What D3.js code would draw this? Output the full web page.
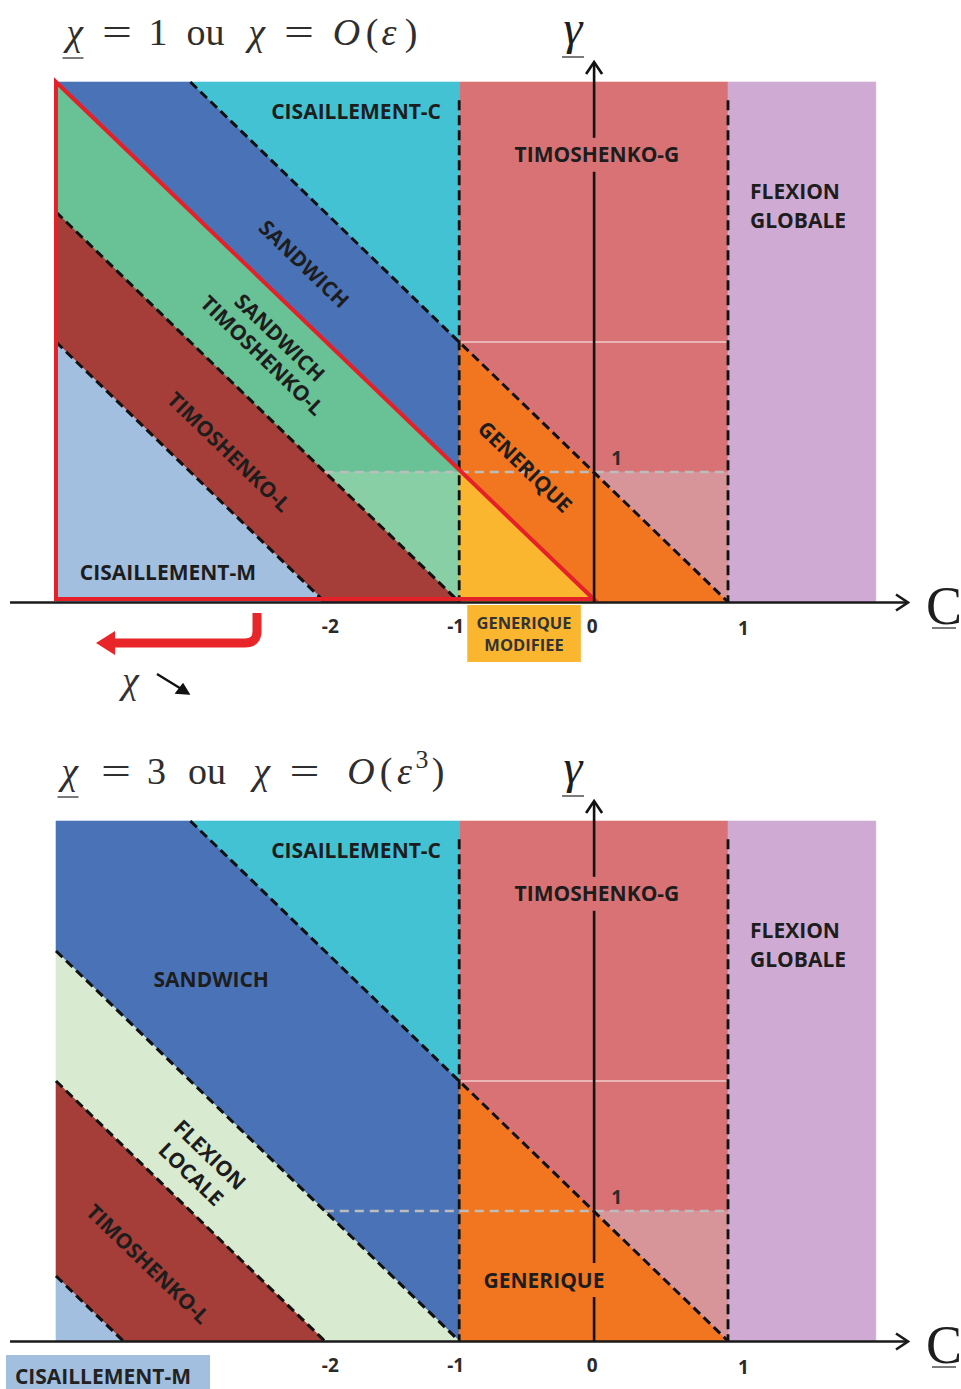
<!DOCTYPE html>
<html><head><meta charset="utf-8">
<script src="https://cdn.jsdelivr.net/npm/d3@7"></script>
<style>body{margin:0;background:#fff}</style>
</head><body>
<svg id="chart" width="961" height="1389" xmlns="http://www.w3.org/2000/svg"></svg>
<script>
// ---------------- DATA ----------------
const categories = ["CISAILLEMENT-C","TIMOSHENKO-G","FLEXION GLOBALE","SANDWICH","SANDWICH TIMOSHENKO-L","TIMOSHENKO-L","CISAILLEMENT-M","GENERIQUE","GENERIQUE MODIFIEE","FLEXION LOCALE"];
const cDomain = [-4, 1];
const gDomain = [0, 4];
const cFlexMax = 2.1;
const xTicks = [-2, -1, 0, 1];
const xTickLabels = ["-2", "-1", "0", "1"];
const yTicks = [1];
const yTickLabels = ["1"];

// regions (C, gamma) — panel chi = 1
const regionsTop = [
  {key:"timoG",   pts:[[-1,4],[1,4],[1,0],[-1,0]]},
  {key:"flexG",   pts:[[1,4],[cFlexMax,4],[cFlexMax,0],[1,0]]},
  {key:"cisC",    pts:[[-3,4],[-1,4],[-1,2]]},
  {key:"sandwich",pts:[[-4,4],[-3,4],[-1,2],[-1,1]]},
  {key:"sandTimo",pts:[[-4,4],[-1,1],[-2,1],[-4,3]]},
  {key:"sandTimoLow",pts:[[-2,1],[-1,1],[-1,0]]},
  {key:"timoL",   pts:[[-4,3],[-1,0],[-2,0],[-4,2]]},
  {key:"cisM",    pts:[[-4,2],[-2,0],[-4,0]]},
  {key:"gen",     pts:[[-1,2],[1,0],[0,0],[-1,1]]},
  {key:"genMod",  pts:[[-1,1],[0,0],[-1,0]]},
  {key:"timoGLow",pts:[[0,1],[1,1],[1,0]]}
];
// regions — panel chi = 3
const regionsBottom = [
  {key:"timoG",   pts:[[-1,4],[1,4],[1,0],[-1,0]]},
  {key:"flexG",   pts:[[1,4],[cFlexMax,4],[cFlexMax,0],[1,0]]},
  {key:"cisC",    pts:[[-3,4],[-1,4],[-1,2]]},
  {key:"sandwich",pts:[[-4,4],[-3,4],[-1,2],[-1,0],[-4,3]]},
  {key:"flexL",   pts:[[-4,3],[-1,0],[-2,0],[-4,2]]},
  {key:"timoL",   pts:[[-4,2],[-2,0],[-3.5,0],[-4,0.5]]},
  {key:"cisM",    pts:[[-4,0.5],[-3.5,0],[-4,0]]},
  {key:"gen",     pts:[[-1,2],[1,0],[-1,0]]},
  {key:"timoGLow",pts:[[0,1],[1,1],[1,0]]}
];
// boundary lines C + gamma = k
const diagTop = [1, -1, -2];
const diagBottom = [1, -1, -2, -3.5];
const verticalBounds = [-1, 1];
const verticalTop = 3.86;
const gammaOneLine = [[-2,1],[1,1]];
const gammaTwoLine = [[-1,2],[1,2]];
const redTriangle = [[-4,4],[-4,0],[0,0]];

// labels anchored in (C, gamma)
const labelsTop = [
  {t:["CISAILLEMENT-C"], c:-1.767, g:3.77},
  {t:["SANDWICH"], c:-2.155, g:2.60, rot:true},
  {t:["SANDWICH","TIMOSHENKO-L"], c:-2.40, g:1.965, rot:true, lh:25},
  {t:["TIMOSHENKO-L"], c:-2.712, g:1.154, rot:true},
  {t:["CISAILLEMENT-M"], c:-3.167, g:0.227},
  {t:["GENERIQUE"], c:-0.51, g:1.04, rot:true},
  {t:["TIMOSHENKO-G"], c:0.025, g:3.44, bg:"timoG"},
  {t:["FLEXION","GLOBALE"], c:1.164, g:3.05, anchor:"start", lh:29}
];
const labelsBottom = [
  {t:["CISAILLEMENT-C"], c:-1.767, g:3.77},
  {t:["TIMOSHENKO-G"], c:0.025, g:3.44, bg:"timoG"},
  {t:["FLEXION","GLOBALE"], c:1.164, g:3.05, anchor:"start", lh:29},
  {t:["SANDWICH"], c:-2.845, g:2.785},
  {t:["FLEXION","LOCALE"], c:-2.925, g:1.358, rot:true, lh:27},
  {t:["TIMOSHENKO-L"], c:-3.315, g:0.592, rot:true},
  {t:["GENERIQUE"], c:-0.369, g:0.469, bg:"gen"}
];
// title tokens (text, italic, superscript) with their centre x
const titleTop = [
  {s:"χ", i:1, cx:74.5, u:1}, {s:"=", cx:117, eq:1}, {s:"1", cx:158}, {s:"ou", cx:205.5},
  {s:"χ", i:1, cx:256.5}, {s:"=", cx:299, eq:1}, {s:"O", i:1, cx:346.5}, {s:"(", cx:372},
  {s:"ε", i:1, cx:389}, {s:")", cx:411}
];
const titleBottom = [
  {s:"χ", i:1, cx:69.5, u:1}, {s:"=", cx:116, eq:1}, {s:"3", cx:156.5}, {s:"ou", cx:207},
  {s:"χ", i:1, cx:261.5}, {s:"=", cx:304.5, eq:1}, {s:"O", i:1, cx:361}, {s:"(", cx:386},
  {s:"ε", i:1, cx:404.5}, {s:"3", cx:422, sup:1}, {s:")", cx:438}
];

// ---------------- STYLE ----------------
const fills = {
  cisC:"#43c2d3", timoG:"#d87275", flexG:"#cfabd3", sandwich:"#4a72b7",
  sandTimo:"#69c196", sandTimoLow:"#89cfa6", timoL:"#a53d38", cisM:"#a3bfdf",
  gen:"#f1761f", genMod:"#fbb630", timoGLow:"#d79599", flexL:"#d8ebd0"
};
const SANS = "'Open Sans', 'DejaVu Sans', sans-serif";
const SERIF = "'Liberation Serif', 'DejaVu Serif', serif";
const ink = "#1d1d1d";

const svg = d3.select("#chart");
const x = d3.scaleLinear().domain(cDomain).range([56, 728]);
const panels = [
  {axisY:602, topY:82, regions:regionsTop, diags:diagTop, labels:labelsTop, red:true, title:titleTop, tBase:45},
  {axisY:1341, topY:821, regions:regionsBottom, diags:diagBottom, labels:labelsBottom, red:false, title:titleBottom, tBase:784}
];

function drawTitle(tokens, baseline, fs){
  tokens.forEach(p => {
    const t = svg.append("text").attr("x", p.cx).attr("y", p.sup ? baseline - fs*0.42 : baseline)
      .attr("text-anchor", "middle").attr("font-family", SERIF)
      .attr("font-size", p.sup ? fs*0.68 : fs).attr("fill", "#2e2e2e").text(p.s);
    if (p.i) t.attr("font-style", "italic");
    if (p.eq) t.attr("textLength", 30).attr("lengthAdjust", "spacingAndGlyphs").attr("x", p.cx - 15).attr("text-anchor", "start");
    if (p.u) svg.append("line").attr("x1", p.cx - 12).attr("x2", p.cx + 9).attr("y1", baseline + 13).attr("y2", baseline + 13)
      .attr("stroke", "#333").attr("stroke-width", 1.3);
  });
}

panels.forEach((P, pi) => {
  const y = d3.scaleLinear().domain(gDomain).range([P.axisY, P.topY]);
  const g = svg.append("g");
  const line = d3.line().x(d => x(d[0])).y(d => y(d[1]));
  const ang = Math.atan2(y(0) - y(1), x(1) - x(0)) * 180 / Math.PI;

  // regions
  g.selectAll("path.region").data(P.regions).join("path")
    .attr("class", "region")
    .attr("d", d => line(d.pts) + "Z")
    .attr("fill", d => fills[d.key]).attr("stroke", d => fills[d.key]).attr("stroke-width", 0.6);

  // pale line gamma = 2
  g.append("path").attr("d", line(gammaTwoLine)).attr("stroke", "#f2cccc").attr("stroke-width", 1.4);

  // gray dashed gamma = 1
  g.append("path").attr("d", line(gammaOneLine)).attr("stroke", "#bdbdbd")
    .attr("stroke-width", 2.5).attr("stroke-dasharray", "9,6").attr("fill", "none");

  // black dashed diagonals
  P.diags.forEach(k => {
    const c0 = Math.max(cDomain[0], k - gDomain[1]);
    g.append("path").attr("d", line([[c0, k - c0], [k, 0]]))
      .attr("stroke", "#111").attr("stroke-width", 3).attr("stroke-dasharray", "9,5").attr("fill", "none");
  });
  verticalBounds.forEach(c => {
    g.append("path").attr("d", line([[c, verticalTop], [c, 0]]))
      .attr("stroke", "#111").attr("stroke-width", 2.8).attr("stroke-dasharray", "10,5").attr("fill", "none");
  });

  // red triangle
  if (P.red) {
    const redLine = d3.line().x(d => x(d[0])).y(d => y(d[1]) - (d[1] === 0 ? 3 : 0));
    g.append("path").attr("d", redLine(redTriangle) + "Z").attr("fill", "none")
      .attr("stroke", "#e42128").attr("stroke-width", 4).attr("stroke-linejoin", "miter");
  }

  // x axis line + arrow
  const ay = y(0) + 0.5;
  g.append("line").attr("x1", 10).attr("x2", 907).attr("y1", ay).attr("y2", ay)
    .attr("stroke", "#1a1a1a").attr("stroke-width", 2.6);
  g.append("path").attr("d", `M896,${ay-8} L908,${ay} L896,${ay+8}`).attr("fill", "none")
    .attr("stroke", "#1a1a1a").attr("stroke-width", 2.6);
  // gamma axis + arrow
  const gx = x(0) + 0.5;
  g.append("line").attr("x1", gx).attr("x2", gx).attr("y1", y(0)).attr("y2", P.topY - 19)
    .attr("stroke", "#111").attr("stroke-width", 2.6);
  g.append("path").attr("d", `M${gx-8},${P.topY-8} L${gx},${P.topY-20} L${gx+8},${P.topY-8}`).attr("fill", "none")
    .attr("stroke", "#111").attr("stroke-width", 2.6);

  // tick labels using d3 axis
  const tickNudge = [5, -4, -2, 15];
  const ax = g.append("g").attr("transform", `translate(0,${y(0)})`)
    .call(d3.axisBottom(x).tickValues(xTicks).tickFormat((d, i) => xTickLabels[i]).tickSize(0).tickPadding(0));
  ax.select(".domain").remove();
  ax.selectAll("text").attr("font-family", SANS).attr("font-weight", 700).attr("font-size", 19)
    .attr("fill", "#2b2b2b").attr("dy", null)
    .attr("y", (d, i) => i === 3 ? 33 : 31)
    .attr("dx", (d, i) => tickNudge[i]);
  // gamma tick label
  yTicks.forEach((v, i) => {
    g.append("text").attr("x", x(0) + 23).attr("y", y(v) - 7).attr("text-anchor", "middle")
      .attr("font-family", SANS).attr("font-weight", 700).attr("font-size", 19).attr("fill", "#2b2b2b")
      .text(yTickLabels[i]);
  });

  // axis names
  g.append("text").attr("x", 573).attr("y", P.topY - 38).attr("text-anchor", "middle")
    .attr("font-family", SERIF).attr("font-style", "italic").attr("font-size", 48).attr("fill", "#1e1e1e").text("γ");
  g.append("line").attr("x1", 562).attr("x2", 584).attr("y1", P.topY - 25).attr("y2", P.topY - 25)
    .attr("stroke", "#333").attr("stroke-width", 1.3);
  g.append("text").attr("x", 926).attr("y", y(0) + 22)
    .attr("font-family", SERIF).attr("font-size", 54).attr("fill", "#1e1e1e").text("C");
  g.append("line").attr("x1", 932).attr("x2", 956).attr("y1", y(0) + 26).attr("y2", y(0) + 26)
    .attr("stroke", "#333").attr("stroke-width", 1.3);

  // region labels
  P.labels.forEach(L => {
    const fs = L.fs || 21, n = L.t.length, lh = L.lh || 28;
    const t = g.append("text").attr("font-family", SANS).attr("font-weight", 700).attr("font-size", fs)
      .attr("fill", ink).attr("text-anchor", L.anchor || "middle")
      .attr("transform", `translate(${x(L.c)},${y(L.g)}) rotate(${L.rot ? ang : 0})`);
    L.t.forEach((s, i) => t.append("tspan").attr("x", 0).attr("y", (i - (n - 1) / 2) * lh + 0.36 * fs).text(s));
    if (L.bg) {
      const b = t.node().getBBox();
      g.insert("rect", () => t.node()).attr("x", x(L.c) + b.x - 2).attr("width", b.width + 4)
        .attr("y", y(L.g) - 17).attr("height", 34).attr("fill", fills[L.bg]);
    }
  });

  drawTitle(P.title, P.tBase, 38);
});

// GENERIQUE MODIFIEE box (panel 1)
svg.append("rect").attr("x", x(-0.94)).attr("y", 605).attr("width", x(-0.095) - x(-0.94)).attr("height", 57).attr("fill", fills.genMod);
[["GENERIQUE", 629], ["MODIFIEE", 651]].forEach(([s, yy]) => {
  svg.append("text").attr("x", (x(-0.94) + x(-0.095)) / 2).attr("y", yy).attr("text-anchor", "middle")
    .attr("font-family", SANS).attr("font-weight", 700).attr("font-size", 16.5).attr("fill", "#333").text(s);
});
// CISAILLEMENT-M box (panel 2)
svg.append("rect").attr("x", 6).attr("y", 1355).attr("width", 204).attr("height", 34).attr("fill", fills.cisM);
svg.append("text").attr("x", 103).attr("y", 1383.5).attr("text-anchor", "middle")
  .attr("font-family", SANS).attr("font-weight", 700).attr("font-size", 21).attr("fill", "#222").text("CISAILLEMENT-M");

// red arrow (panel 1)
svg.append("path").attr("d", "M257,613 V631 Q257,643 245,643 H110").attr("fill", "none")
  .attr("stroke", "#e8262a").attr("stroke-width", 9);
svg.append("path").attr("d", "M96,643 L115,631 L115,655 Z").attr("fill", "#e8262a");
// chi with arrow
svg.append("text").attr("x", 122).attr("y", 693).attr("font-family", SERIF).attr("font-style", "italic")
  .attr("font-size", 38).attr("fill", "#333").text("χ");
svg.append("line").attr("x1", 157).attr("y1", 674).attr("x2", 183).attr("y2", 690).attr("stroke", "#111").attr("stroke-width", 2.5);
svg.append("path").attr("d", "M189,694 L176,693 L183,684 Z").attr("fill", "#111").attr("stroke", "#111").attr("stroke-width", 1.5);
</script>
</body></html>
